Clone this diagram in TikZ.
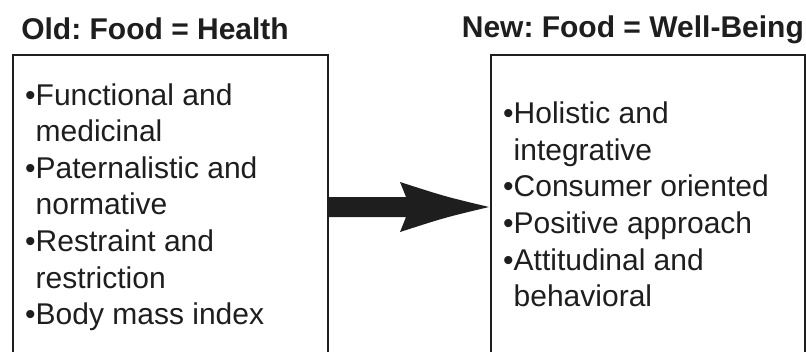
\documentclass[tikz,border=0pt]{standalone}
\usepackage{fontspec}
\setmainfont{Liberation Sans}
\usetikzlibrary{calc}
\definecolor{ink}{HTML}{1E1E1E}
\frenchspacing
\begin{document}
\begin{tikzpicture}[x=1pt,y=-1pt,
  heading/.style={anchor=base east, inner sep=0pt, font=\fontsize{30}{36}\selectfont\bfseries, text=ink},
  item/.style={anchor=base west, inner sep=0pt, font=\fontsize{30}{36}\selectfont, text=ink},
  panel/.style={draw=ink, line width=2.8pt, inner sep=0pt, outer sep=0pt, anchor=north west, minimum height=304pt}]
\useasboundingbox (0,0) rectangle (806,351);
\clip (0,0) rectangle (806,351);
% the two panels, open towards the bottom edge
\node[panel, minimum width=315pt] (oldbox) at (13,55) {};
\node[panel, minimum width=314pt] (newbox) at (491,55) {};
% headings
\node[heading] (oldtitle) at (289,39) {Old: Food = Health};
\node[heading] (newtitle) at (804,37) {New: Food = Well-Being};
% bullet lists
\foreach \t [count=\i from 0] in {{•Functional and},{\hphantom{•}medicinal},{•Paternalistic and},{\hphantom{•}normative},{•Restraint and},{\hphantom{•}restriction},{•Body mass index}}
  \node[item] (old\i) at (25,{105+36.6*\i}) {\t};
\foreach \t [count=\i from 0] in {{•Holistic and},{\hphantom{•}integrative},{•Consumer oriented},{•Positive approach},{•Attitudinal and},{\hphantom{•}behavioral}}
  \node[item] (new\i) at (503,{123.3+36.7*\i}) {\t};
% block arrow from the old panel to the new one
\fill[ink] ($(oldbox.east)+(0,-10)$) -- ($(newbox.west)+(-85,-10)$)
  -- ($(newbox.west)+(-91,-25)$) .. controls ($(newbox.west)+(-46,-10.5)$) .. ($(newbox.west)+(-2,0)$)
  .. controls ($(newbox.west)+(-46,10.5)$) .. ($(newbox.west)+(-91,25)$)
  -- ($(newbox.west)+(-85,10)$) -- ($(oldbox.east)+(0,10)$) -- cycle;
\end{tikzpicture}
\end{document}
